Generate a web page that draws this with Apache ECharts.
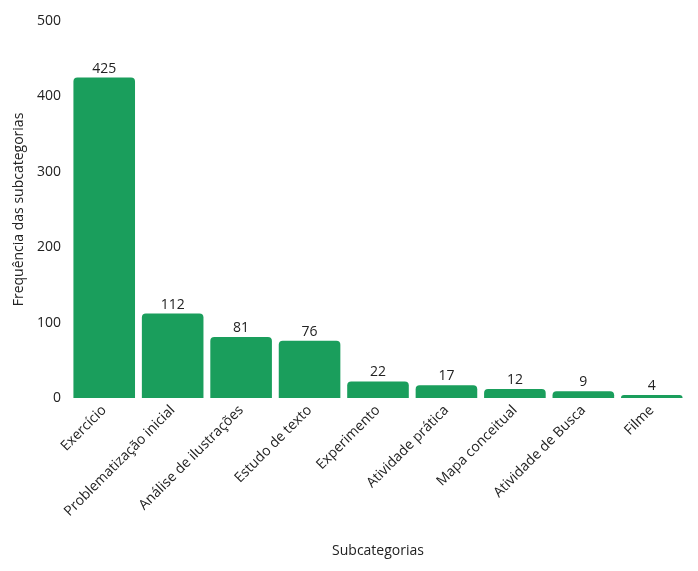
<!DOCTYPE html>
<html>
<head>
<meta charset="utf-8">
<script src="https://cdn.jsdelivr.net/npm/echarts@6/dist/echarts.min.js"></script>
<style>
  html, body { margin: 0; padding: 0; background: #fff; }
  #chart { width: 698px; height: 571px; }
</style>
</head>
<body>
<div id="chart"></div>
<script>
// categorias e frequencias
var categorias = ['Exercício', 'Problematização inicial', 'Análise de ilustrações', 'Estudo de texto',
	'Experimento', 'Atividade prática', 'Mapa conceitual', 'Atividade de Busca', 'Filme'];
var frequencias = [425, 112, 81, 76, 22, 17, 12, 9, 4];
var yTicks = [0, 100, 200, 300, 400, 500];

var fonte = '"Open Sans", sans-serif';
var chart = echarts.init(document.getElementById('chart'));

chart.setOption({
	animation: false,
	grid: { left: 70, right: 12, top: 21, bottom: 173 },
	xAxis: {
		type: 'category',
		data: categorias,
		name: 'Subcategorias',
		nameLocation: 'middle',
		nameGap: 146,
		nameTextStyle: { fontFamily: fonte, fontSize: 14, color: '#222' },
		axisLine: { show: false },
		axisTick: { show: false },
		axisLabel: { rotate: 45, interval: 0, margin: 10, fontFamily: fonte, fontSize: 14, color: '#222' }
	},
	yAxis: {
		type: 'value',
		min: yTicks[0],
		max: yTicks[yTicks.length - 1],
		interval: 100,
		name: 'Frequência das subcategorias',
		nameLocation: 'middle',
		nameGap: 43,
		nameTextStyle: { fontFamily: fonte, fontSize: 14, color: '#222' },
		axisLine: { show: false },
		axisTick: { show: false },
		splitLine: { show: false },
		axisLabel: { margin: 9, fontFamily: fonte, fontSize: 14, color: '#222' }
	},
	series: [{
		type: 'bar',
		data: frequencias,
		barCategoryGap: '10%',
		itemStyle: { color: '#1a9e5c', borderRadius: [4, 4, 0, 0] },
		label: { show: true, position: 'top', distance: 2, fontFamily: fonte, fontSize: 14, color: '#222' }
	}]
});
</script>
</body>
</html>
